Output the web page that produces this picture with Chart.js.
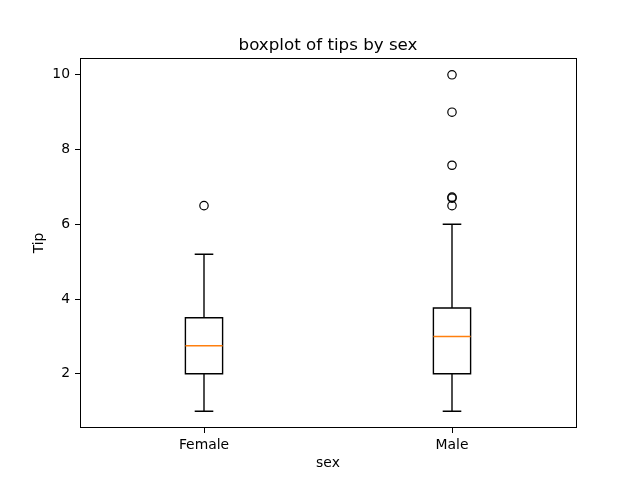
<!DOCTYPE html>
<html>
<head>
<meta charset="utf-8">
<script src="https://cdn.jsdelivr.net/npm/chart.js"></script>
<style>
html,body{margin:0;padding:0;background:#fff;}
canvas{display:block;}
</style>
</head>
<body>
<canvas id="c" width="640" height="480"></canvas>
<script>
// ---- data ----
const categories = ['Female', 'Male'];
const positions = [1, 2];
const whiskerLow = [1.0, 1.0];
const q1 = [2.0, 2.0];
const median = [2.75, 3.0];
const q3 = [3.5, 3.7625];
const whiskerHigh = [5.2, 6.0];
const outliersFemale = [6.5];
const outliersMale = [6.5, 6.7, 6.73, 7.58, 9.0, 10.0];
const yTicks = [2, 4, 6, 8, 10];
const chartTitle = 'boxplot of tips by sex';
const xTitle = 'sex';
const yTitle = 'Tip';

// ---- styles ----
const BOX_W = 0.15;   // box width in x data units
const CAP_W = 0.075;  // cap width in x data units
const FONT = '"DejaVu Sans", sans-serif';

const outlierData = [
  outliersFemale.map(v => ({x: positions[0], y: v})),
  outliersMale.map(v => ({x: positions[1], y: v}))
];

const boxPlugin = {
  id: 'boxes',
  beforeDatasetsDraw(chart) {
    const ctx = chart.ctx, xs = chart.scales.x, ys = chart.scales.y;
    ctx.save();
    ctx.lineWidth = 1.39;
    for (let i = 0; i < categories.length; i++) {
      const p = positions[i];
      const xl = xs.getPixelForValue(p - BOX_W / 2), xr = xs.getPixelForValue(p + BOX_W / 2);
      const xc = xs.getPixelForValue(p);
      const cl = xs.getPixelForValue(p - CAP_W / 2), cr = xs.getPixelForValue(p + CAP_W / 2);
      const yq1 = ys.getPixelForValue(q1[i]), yq3 = ys.getPixelForValue(q3[i]);
      const ylo = ys.getPixelForValue(whiskerLow[i]), yhi = ys.getPixelForValue(whiskerHigh[i]);
      const ymed = ys.getPixelForValue(median[i]);
      ctx.strokeStyle = '#000';
      ctx.beginPath();
      ctx.rect(xl, yq3, xr - xl, yq1 - yq3);
      ctx.moveTo(xc, yq1); ctx.lineTo(xc, ylo);
      ctx.moveTo(xc, yq3); ctx.lineTo(xc, yhi);
      ctx.moveTo(cl, ylo); ctx.lineTo(cr, ylo);
      ctx.moveTo(cl, yhi); ctx.lineTo(cr, yhi);
      ctx.stroke();
      ctx.strokeStyle = '#ff7f0e';
      ctx.beginPath();
      ctx.moveTo(xl, ymed); ctx.lineTo(xr, ymed);
      ctx.stroke();
    }
    ctx.restore();
  },
  afterDraw(chart) {
    const ctx = chart.ctx, a = chart.chartArea;
    ctx.save();
    ctx.strokeStyle = '#000';
    ctx.lineWidth = 1;
    ctx.strokeRect(Math.round(a.left) + 0.5, Math.round(a.top) + 0.5,
                   Math.round(a.right - a.left), Math.round(a.bottom - a.top) - 1);
    ctx.fillStyle = '#000';
    ctx.font = '16.7px ' + FONT;
    ctx.textAlign = 'center';
    ctx.textBaseline = 'alphabetic';
    ctx.fillText(chartTitle, (a.left + a.right) / 2, a.top - 8.3);
    ctx.font = '13.9px ' + FONT;
    ctx.fillText(xTitle, (a.left + a.right) / 2, 467);
    ctx.translate(43, (a.top + a.bottom) / 2);
    ctx.rotate(-Math.PI / 2);
    ctx.fillText(yTitle, 0, 0);
    ctx.restore();
  }
};

new Chart(document.getElementById('c'), {
  type: 'scatter',
  data: {
    datasets: outlierData.map(d => ({
      data: d,
      pointStyle: 'circle',
      pointRadius: 4.2,
      pointHoverRadius: 4.2,
      borderWidth: 1.2,
      borderColor: '#000',
      backgroundColor: 'rgba(0,0,0,0)'
    }))
  },
  options: {
    responsive: false,
    animation: false,
    devicePixelRatio: 1,
    layout: {padding: {top: 58, right: 64, left: 0, bottom: 0}},
    plugins: {legend: {display: false}, title: {display: false}, tooltip: {enabled: false}},
    scales: {
      x: {
        type: 'linear',
        min: 0.5, max: 2.5,
        afterFit(s) { s.height = 52; },
        afterBuildTicks(s) { s.ticks = positions.map(v => ({value: v})); },
        grid: {drawOnChartArea: false, drawTicks: true, tickLength: 5, color: '#000', tickWidth: 1},
        border: {display: false},
        ticks: {
          color: '#000', padding: 4, maxRotation: 0, autoSkip: false,
          font: {family: FONT, size: 13.9},
          callback: (v) => { const i = positions.indexOf(v); return i >= 0 ? categories[i] : ''; }
        }
      },
      y: {
        type: 'linear',
        min: 0.55, max: 10.45,
        afterFit(s) { s.width = 80; },
        afterBuildTicks(s) { s.ticks = yTicks.map(v => ({value: v})); },
        grid: {drawOnChartArea: false, drawTicks: true, tickLength: 5, color: '#000', tickWidth: 1},
        border: {display: false},
        ticks: {
          color: '#000', padding: 5, autoSkip: false,
          font: {family: FONT, size: 13.9},
          callback: (v) => String(v)
        }
      }
    }
  },
  plugins: [boxPlugin]
});
</script>
</body>
</html>
